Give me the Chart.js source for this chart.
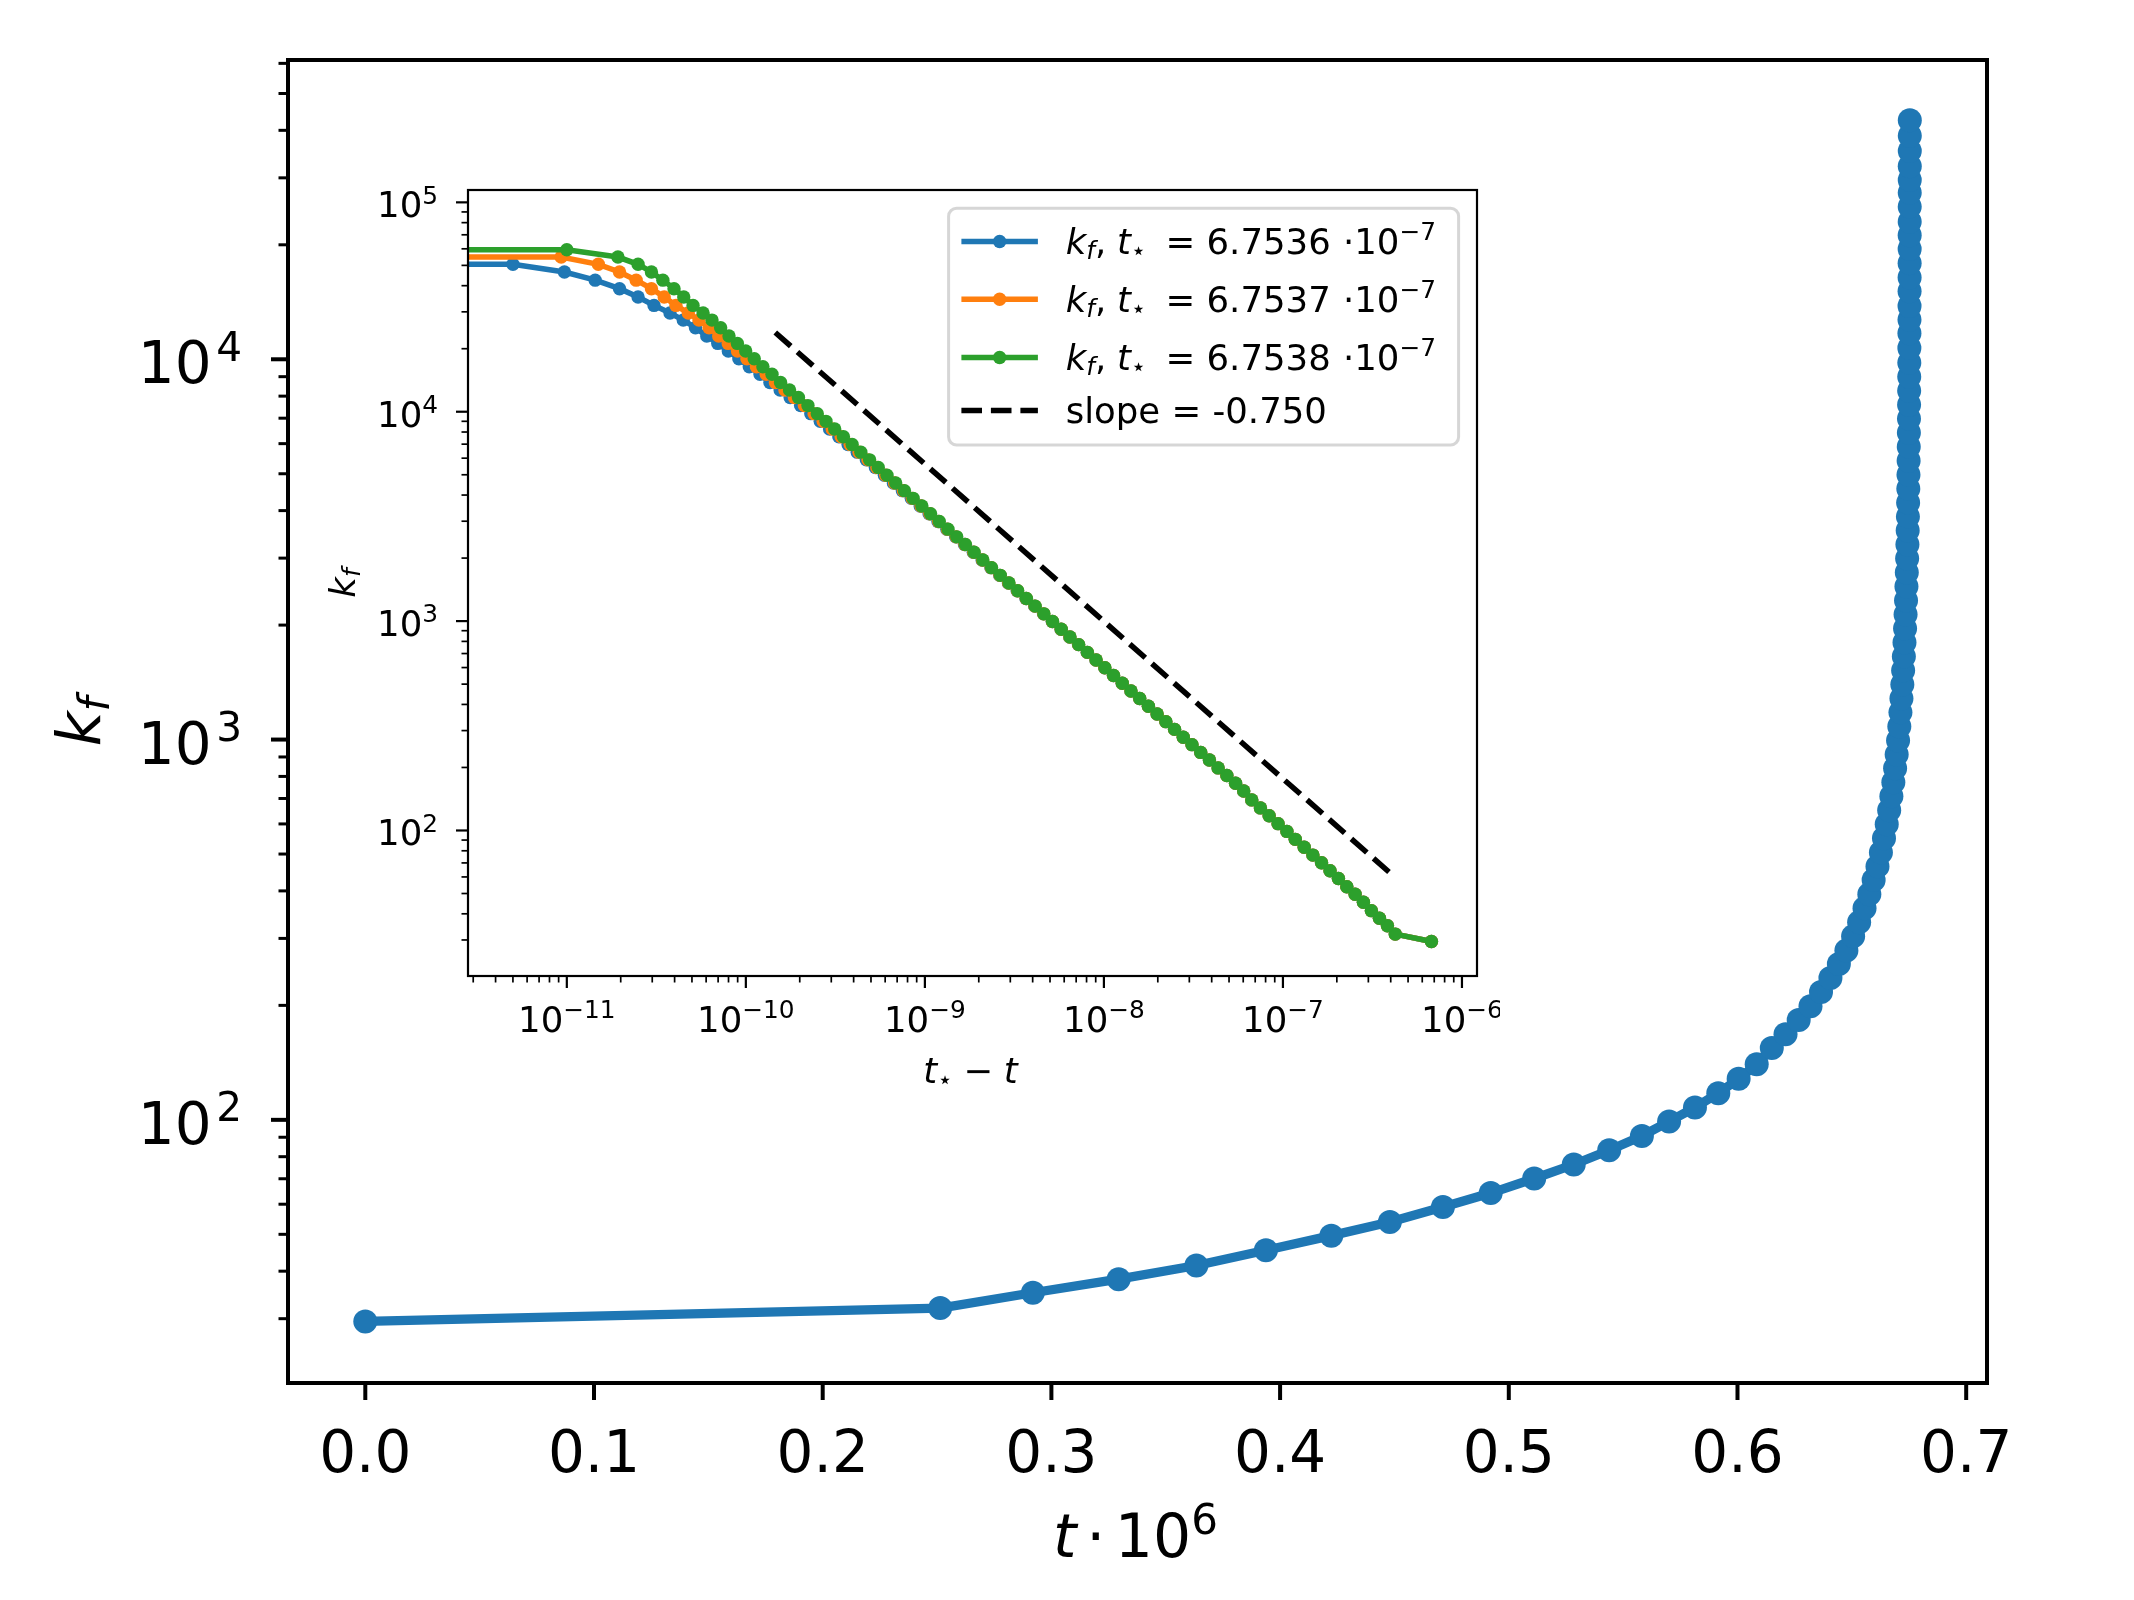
<!DOCTYPE html>
<html>
<head>
<meta charset="utf-8">
<script src="https://cdn.jsdelivr.net/npm/chart.js@4.4.1/dist/chart.umd.min.js"></script>
<style>
  html, body { margin: 0; padding: 0; background: #fff; }
  #wrap { position: relative; width: 2134px; height: 1600px; }
  #main { position: absolute; left: 0; top: 0; }
  #inset { position: absolute; left: 300px; top: 160px; }
</style>
</head>
<body>
<div id="wrap">
  <canvas id="main" width="2134" height="1600"></canvas>
  <canvas id="inset" width="1200" height="960"></canvas>
</div>
<script>
// time t (units of 1e-6) and k_f
const tVals = [
  0, 0.2514, 0.2919, 0.3294, 0.3634, 0.3938, 0.4224, 0.4480, 0.4712, 0.4921,
  0.5111, 0.5284, 0.5439, 0.5582, 0.5701, 0.5814, 0.5916, 0.6005, 0.6084, 0.6150,
  0.62100, 0.62676, 0.63192, 0.63652, 0.64064, 0.64433, 0.64762, 0.65056, 0.65319, 0.655547,
  0.657650, 0.659530, 0.661210, 0.662713, 0.664056, 0.665256, 0.666330, 0.667289, 0.668147, 0.668914,
  0.669600, 0.670213, 0.670760, 0.671250, 0.671688, 0.672080, 0.672430, 0.672742, 0.673022, 0.673272,
  0.6734955, 0.6736953, 0.6738739, 0.6740336, 0.6741764, 0.6743040, 0.6744181, 0.6745201, 0.6746113, 0.6746928,
  0.6747656, 0.6748308, 0.6748890, 0.6749411, 0.6749876, 0.6750292, 0.6750664, 0.6750997, 0.6751294, 0.6751577,
  0.6751832, 0.6752046, 0.6752237, 0.6752400, 0.6752555, 0.6752686, 0.6752802, 0.6752903, 0.6752995, 0.6753077,
  0.6753153, 0.6753223, 0.6753293, 0.6753350, 0.6753403, 0.6753456, 0.6753503, 0.6753550, 0.6753607, 0.6753700,
  0.6753850, 0.6753900, 0.6753950
];
const kVals = [
  29.5, 32.0, 35.1, 38.1, 41.4, 45.4, 49.6, 53.9, 59.0, 64.2,
  70.1, 76.3, 83.2, 90.7, 99.0, 107.8, 117.5, 128.2, 140, 154.5,
  168, 183, 199, 217, 236, 257, 279, 304, 331, 360,
  392, 427, 464, 505, 550, 599, 652, 709, 772, 840,
  914, 995, 1083, 1179, 1283, 1396, 1520, 1654, 1800, 1959,
  2132, 2321, 2526, 2749, 2992, 3256, 3544, 3857, 4198, 4569,
  4972, 5412, 5890, 6411, 6977, 7594, 8265, 8995, 9790, 10700,
  11700, 12700, 13800, 15100, 16400, 17900, 19500, 21200, 23000, 25200,
  27400, 29600, 32200, 35300, 38700, 42500, 46500, 50600, 54800, 59400,
  64700, 70500, 76800
];
const mainCount = 86;   // the big panel stops at k_f ~ 4.25e4

const tStars = [0.67536, 0.67537, 0.67538];   // units of 1e-6
const starLabels = ['6.7536', '6.7537', '6.7538'];
const seriesColors = ['#1f77b4', '#ff7f0e', '#2ca02c'];

const slopeX = [1.46e-10, 4.18e-7];
const slopeK = [23900, 60.3];
const slopeLabel = 'slope = -0.750';

const mainXTicks = [0, 0.1, 0.2, 0.3, 0.4, 0.5, 0.6, 0.7];
const mainXTickLabels = ['0.0', '0.1', '0.2', '0.3', '0.4', '0.5', '0.6', '0.7'];
const mainYDecades = [2, 3, 4];
const insetXDecades = [-11, -10, -9, -8, -7, -6];
const insetYDecades = [2, 3, 4, 5];

const FONT = "'DejaVu Sans', 'Noto Sans', sans-serif";

// ---- little mathtext-ish text helper ----
function fontFor(st, size) {
  const small = st === 'sub' || st === 'sup' || st === 'isub';
  const it = st === 'i' || st === 'isub';
  return (it ? 'italic ' : '') + (small ? size * 0.7 : size).toFixed(1) + 'px ' + FONT;
}
function shiftFor(st, size) {
  if (st === 'sub' || st === 'isub') return 0.15 * size;
  if (st === 'sup') return -0.39 * size;
  return 0;
}
function mathWidth(ctx, parts, size) {
  let w = 0;
  for (const p of parts) {
    if (p[1] === 'gap') { w += p[0] * size; continue; }
    ctx.font = fontFor(p[1], size);
    w += ctx.measureText(p[0]).width;
  }
  return w;
}
function drawMath(ctx, parts, x, y, size, align) {
  const w = mathWidth(ctx, parts, size);
  let cx = align === 'center' ? x - w / 2 : (align === 'right' ? x - w : x);
  ctx.textAlign = 'left';
  ctx.textBaseline = 'alphabetic';
  for (const p of parts) {
    if (p[1] === 'gap') { cx += p[0] * size; continue; }
    ctx.font = fontFor(p[1], size);
    ctx.fillText(p[0], cx, y + shiftFor(p[1], size));
    cx += ctx.measureText(p[0]).width;
  }
}
const expText = e => String(e).replace('-', '\u2212');
const pow10 = e => [['10', ''], [expText(e), 'sup']];
const pow10wide = e => [['10', ''], [0.08, 'gap'], [expText(e), 'sup']];

function logMinors(lo, hi) {
  const out = [];
  for (let e = Math.floor(lo); e <= Math.ceil(hi); e++) {
    for (let m = 2; m <= 9; m++) {
      const v = m * Math.pow(10, e);
      if (Math.log10(v) >= lo && Math.log10(v) <= hi) out.push(v);
    }
  }
  return out;
}

// spines, ticks, tick labels and axis titles, matplotlib style
function axesFrame(cfg) {
  return {
    id: 'axesFrame',
    beforeDraw(chart) {
      const { ctx, chartArea: a } = chart;
      ctx.save();
      ctx.fillStyle = '#ffffff';
      if (cfg.fillAll) ctx.fillRect(0, 0, chart.width, chart.height);
      else ctx.fillRect(a.left, a.top, a.right - a.left, a.bottom - a.top);
      ctx.restore();
    },
    afterDraw(chart) {
      const { ctx, chartArea: a, scales } = chart;
      const xs = scales.x, ys = scales.y;
      ctx.save();
      ctx.strokeStyle = '#000';
      ctx.fillStyle = '#000';
      const tick = (x1, y1, x2, y2, w) => {
        ctx.lineWidth = w; ctx.beginPath(); ctx.moveTo(x1, y1); ctx.lineTo(x2, y2); ctx.stroke();
      };
      cfg.xMinor.forEach(v => {
        const px = xs.getPixelForValue(v);
        tick(px, a.bottom, px, a.bottom + cfg.minorLen, cfg.minorW);
      });
      cfg.yMinor.forEach(v => {
        const py = ys.getPixelForValue(v);
        tick(a.left, py, a.left - cfg.minorLen, py, cfg.minorW);
      });
      cfg.xMajor.forEach((v, i) => {
        const px = xs.getPixelForValue(v);
        tick(px, a.bottom, px, a.bottom + cfg.majorLen, cfg.majorW);
        drawMath(ctx, cfg.xLabels[i], px, a.bottom + cfg.xLabelDy, cfg.tickSize, 'center');
      });
      cfg.yMajor.forEach((v, i) => {
        const py = ys.getPixelForValue(v);
        tick(a.left, py, a.left - cfg.majorLen, py, cfg.majorW);
        drawMath(ctx, cfg.yLabels[i], a.left - cfg.yLabelDx, py + cfg.yLabelDy, cfg.tickSize, 'right');
      });
      ctx.lineWidth = cfg.spine;
      ctx.strokeRect(a.left, a.top, a.right - a.left, a.bottom - a.top);

      drawMath(ctx, cfg.xTitle, (a.left + a.right) / 2 + cfg.xTitleDx, a.bottom + cfg.xTitleDy, cfg.titleSize, 'center');
      ctx.translate(cfg.yTitleX, (a.top + a.bottom) / 2);
      ctx.rotate(-Math.PI / 2);
      drawMath(ctx, cfg.yTitle, 0, 0, cfg.titleSize, 'center');
      ctx.restore();
    }
  };
}

// ---------------- main panel ----------------
const mainPts = tVals.slice(0, mainCount).map((t, i) => ({ x: t, y: kVals[i] }));
const mainYMin = Math.pow(10, 1.308), mainYMax = Math.pow(10, 4.787);

new Chart(document.getElementById('main'), {
  type: 'line',
  data: {
    datasets: [{
      data: mainPts,
      borderColor: seriesColors[0],
      backgroundColor: seriesColors[0],
      borderWidth: 9.3,
      pointRadius: 12,
      pointHoverRadius: 12,
      pointBorderWidth: 0,
      pointBackgroundColor: seriesColors[0],
      tension: 0
    }]
  },
  options: {
    responsive: false,
    animation: false,
    devicePixelRatio: 1,
    events: [],
    layout: { padding: { left: 288, top: 60, right: 147, bottom: 217 } },
    scales: {
      x: { type: 'linear', min: -0.0338, max: 0.7091, display: false },
      y: { type: 'logarithmic', min: mainYMin, max: mainYMax, display: false }
    },
    plugins: { legend: { display: false }, tooltip: { enabled: false } }
  },
  plugins: [axesFrame({
    fillAll: true,
    spine: 4, majorLen: 17, majorW: 4, minorLen: 9.5, minorW: 3,
    tickSize: 58, titleSize: 60,
    xMajor: mainXTicks, xLabels: mainXTickLabels.map(s => [[s, '']]), xMinor: [],
    yMajor: mainYDecades.map(e => Math.pow(10, e)), yLabels: mainYDecades.map(pow10wide),
    yMinor: logMinors(1.308, 4.787),
    xLabelDy: 89, yLabelDx: 46, yLabelDy: 24,
    xTitle: [['t', 'i'], [0.16, 'gap'], ['\u00b7', ''], [0.16, 'gap'], ['10', ''], ['6', 'sup']],
    xTitleDx: -2, xTitleDy: 174,
    yTitle: [['k', 'i'], ['f', 'isub']], yTitleX: 100
  })]
});

// ---------------- inset ----------------
// x = t_star - t ; non-positive values are clipped far to the left like matplotlib does
const insetSeries = tStars.map(ts => tVals.map((t, i) => {
  const gap = (ts - t) * 1e-6;
  return { x: gap > 0 ? gap : 1e-300, y: kVals[i] };
}));
const slopePts = slopeX.map((x, i) => ({ x: x, y: slopeK[i] }));
const inXMin = Math.pow(10, -11.552), inXMax = Math.pow(10, -5.916);
const inYMin = Math.pow(10, 1.305), inYMax = Math.pow(10, 5.059);

const insetSets = insetSeries.map((pts, j) => ({
  data: pts,
  borderColor: seriesColors[j],
  backgroundColor: seriesColors[j],
  borderWidth: 5.5,
  pointRadius: 6.7,
  pointHoverRadius: 6.7,
  pointBorderWidth: 0,
  pointBackgroundColor: seriesColors[j],
  tension: 0,
  order: 4 - j
}));
insetSets.push({
  data: slopePts,
  borderColor: '#000000',
  borderWidth: 5.5,
  borderDash: [20.6, 8.9],
  pointRadius: 0,
  tension: 0,
  order: 0
});

const LG = { x: 648.6, y: 48.3, w: 510, h: 236.7, r: 8, size: 35.5,
             rows: [94, 151.7, 210, 263], lineX0: 661.4, lineX1: 737.9, textX: 765.7,
             eqDx: 99.8, dotDx: 277.3 };

const insetLegend = {
  id: 'insetLegend',
  afterDraw(chart) {
    const ctx = chart.ctx;
    ctx.save();
    ctx.beginPath();
    ctx.roundRect(LG.x, LG.y, LG.w, LG.h, LG.r);
    ctx.fillStyle = 'rgba(255,255,255,0.8)';
    ctx.fill();
    ctx.lineWidth = 3;
    ctx.strokeStyle = 'rgba(204,204,204,0.8)';
    ctx.stroke();
    starLabels.forEach((lab, j) => {
      const yb = LG.rows[j], yl = yb - 12.5;
      ctx.strokeStyle = seriesColors[j];
      ctx.lineWidth = 5.5;
      ctx.beginPath(); ctx.moveTo(LG.lineX0, yl); ctx.lineTo(LG.lineX1, yl); ctx.stroke();
      ctx.fillStyle = seriesColors[j];
      ctx.beginPath(); ctx.arc((LG.lineX0 + LG.lineX1) / 2, yl, 6.7, 0, 2 * Math.PI); ctx.fill();
      ctx.fillStyle = '#000';
      drawMath(ctx, [['k', 'i'], ['f', 'isub'], [',', ''], [0.3, 'gap'], ['t', 'i'], ['\u22c6', 'sub']],
               LG.textX, yb, LG.size, 'left');
      drawMath(ctx, [['= ' + lab, '']], LG.textX + LG.eqDx, yb, LG.size, 'left');
      drawMath(ctx, [['\u00b710', ''], ['\u22127', 'sup']], LG.textX + LG.dotDx, yb, LG.size, 'left');
    });
    const yb = LG.rows[3], yl = yb - 12.5;
    ctx.strokeStyle = '#000';
    ctx.lineWidth = 5.5;
    ctx.setLineDash([20.6, 8.9]);
    ctx.beginPath(); ctx.moveTo(LG.lineX0, yl); ctx.lineTo(LG.lineX1, yl); ctx.stroke();
    ctx.setLineDash([]);
    drawMath(ctx, [[slopeLabel, '']], LG.textX, yb, LG.size, 'left');
    ctx.restore();
  }
};

new Chart(document.getElementById('inset'), {
  type: 'line',
  data: { datasets: insetSets },
  options: {
    responsive: false,
    animation: false,
    devicePixelRatio: 1,
    events: [],
    layout: { padding: { left: 168, top: 30, right: 23, bottom: 144 } },
    scales: {
      x: { type: 'logarithmic', min: inXMin, max: inXMax, display: false },
      y: { type: 'logarithmic', min: inYMin, max: inYMax, display: false }
    },
    plugins: { legend: { display: false }, tooltip: { enabled: false } }
  },
  plugins: [axesFrame({
    fillAll: false,
    spine: 2.2, majorLen: 12, majorW: 2.2, minorLen: 6.5, minorW: 1.7,
    tickSize: 35.5, titleSize: 35.5,
    xMajor: insetXDecades.map(e => Math.pow(10, e)), xLabels: insetXDecades.map(pow10),
    xMinor: logMinors(-11.552, -5.916),
    yMajor: insetYDecades.map(e => Math.pow(10, e)), yLabels: insetYDecades.map(pow10),
    yMinor: logMinors(1.305, 5.059),
    xLabelDy: 56, yLabelDx: 30, yLabelDy: 15,
    xTitle: [['t', 'i'], ['\u22c6', 'sub'], [0.3, 'gap'], ['\u2212', ''], [0.3, 'gap'], ['t', 'i']],
    xTitleDx: -2, xTitleDy: 107,
    yTitle: [['k', 'i'], ['f', 'isub']], yTitleX: 55
  }), insetLegend]
});
</script>
</body>
</html>
